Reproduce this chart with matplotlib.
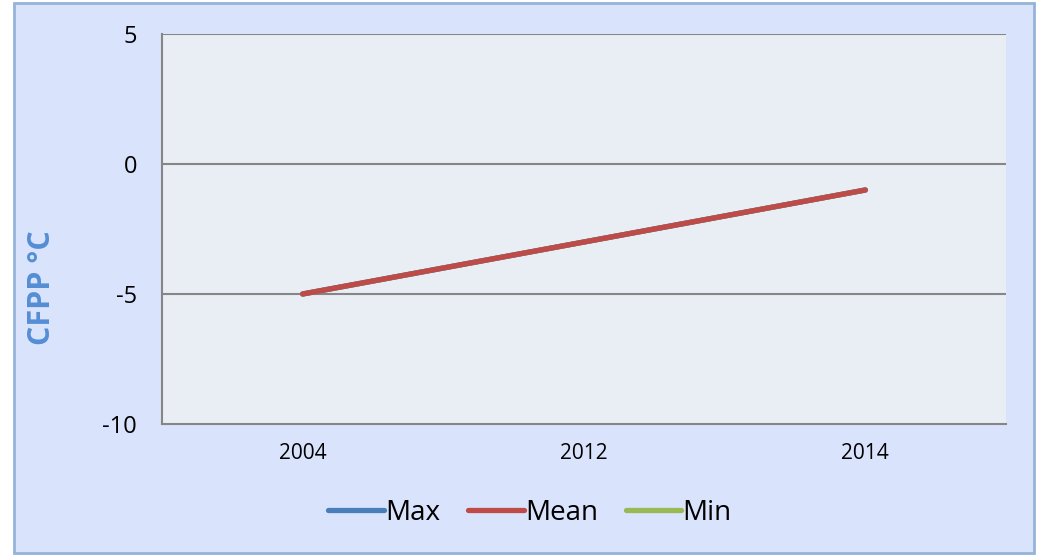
import matplotlib
matplotlib.use("Agg")
import matplotlib.pyplot as plt
from matplotlib.patches import Rectangle

years = ["2004", "2012", "2014"]
max_vals = [-5, -3, -1]
mean_vals = [-5, -3, -1]
min_vals = [-5, -3, -1]
y_ticks = [-10, -5, 0, 5]

plt.rcParams['font.family'] = ['Open Sans', 'DejaVu Sans']

W, H = 1040, 556
fig = plt.figure(figsize=(W / 100, H / 100), dpi=100, facecolor='white')
fig.patches.append(Rectangle((14 / W, 3 / H), (1034 - 14) / W, (553 - 3) / H,
                             transform=fig.transFigure, facecolor='#d9e3fc',
                             edgecolor='#95b3d7', linewidth=2, zorder=-10))

ax = fig.add_axes([162 / W, 1 - 424 / H, (1006 - 162) / W, (424 - 34) / H])
ax.set_facecolor('#e9eef4')

x = list(range(len(years)))
ax.plot(x, max_vals, color='#4a7ebb', lw=3.8, solid_capstyle='round', label='Max', zorder=3)
ax.plot(x, mean_vals, color='#be4b48', lw=3.8, solid_capstyle='round', label='Mean', zorder=4)
ax.plot(x, min_vals, color='#98b954', lw=3.8, solid_capstyle='round', label='Min', zorder=2)

ax.set_xlim(-0.5, len(years) - 0.5)
ax.set_ylim(-10, 5)
ax.set_yticks(y_ticks)
ax.set_yticklabels([str(v) for v in y_ticks], fontsize=17)
ax.set_xticks(x)
ax.set_xticklabels(years, fontsize=15)
ax.tick_params(axis='both', length=0, colors='black')
ax.tick_params(axis='y', pad=18)
ax.tick_params(axis='x', pad=14)

for v in y_ticks:
    if v > -10:
        ax.axhline(v, color='#868686', lw=1.5, zorder=1)

for s in ['top', 'right']:
    ax.spines[s].set_visible(False)
for s in ['left', 'bottom']:
    ax.spines[s].set_color('#868686')
    ax.spines[s].set_linewidth(1.5)

fig.text(42 / W, 1 - 288 / H, 'CFPP °C', rotation=90, fontsize=22, fontweight='bold',
         color='#558ed5', ha='center', va='center')

handles, labels = ax.get_legend_handles_labels()
leg = fig.legend(handles, labels, loc='center', bbox_to_anchor=(530 / W, 1 - 513 / H),
                 ncol=3, frameon=False, fontsize=20, handlelength=2.0,
                 handletextpad=0.05, columnspacing=1.0)

fig.savefig('out.png', dpi=100, facecolor='white')
